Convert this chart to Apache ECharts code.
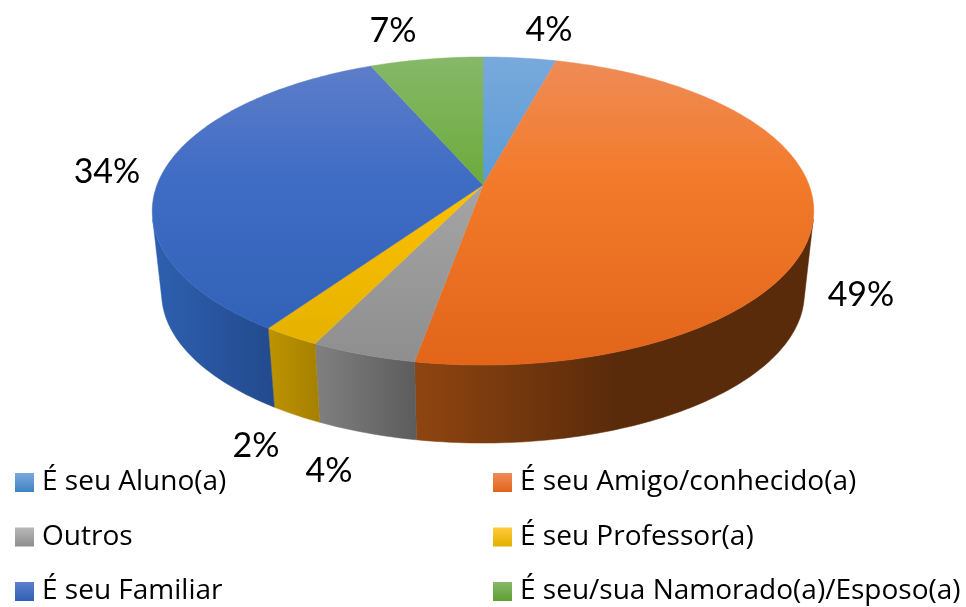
<!DOCTYPE html>
<html>
<head>
<meta charset="utf-8">
<title>Pizza 3D</title>
<style>
  html, body { margin: 0; padding: 0; background: #fff; }
  #chart { width: 966px; height: 607px; }
</style>
<script src="https://cdn.jsdelivr.net/npm/echarts@6/dist/echarts.min.js"></script>
</head>
<body>
<div id="chart"></div>
<script>
// dados (percentual de cada fatia)
const categories = ['É seu Aluno(a)', 'É seu Amigo/conhecido(a)', 'Outros', 'É seu Professor(a)', 'É seu Familiar', 'É seu/sua Namorado(a)/Esposo(a)']
const values = [4.2, 48.6, 4.4, 2.4, 33.9, 6.5]

// cores: [topo claro, meio, base] da face e [esquerda, direita] da lateral
const topColors = [
  ['#79a9dc', '#5b9bd5', '#3f83c2'],
  ['#ee8c58', '#f37a2a', '#e2651a'],
  ['#b8b8b8', '#a5a5a5', '#8e8e8e'],
  ['#ffcb3a', '#ffc000', '#e2b000'],
  ['#5f7fca', '#3f6cc4', '#2f5fb5'],
  ['#86b869', '#6dab3c', '#5f9e32']
]
const wallColors = [
  ['#3f7fb8', '#3f7fb8'],
  ['#8f4510', '#5a2b0b'],
  ['#808080', '#5c5c5c'],
  ['#bd9400', '#a58000'],
  ['#2e60b0', '#234a8d'],
  ['#4f7f2c', '#4f7f2c']
]
// centro dos rótulos de percentual, na ordem das categorias
const labelCenters = [[549, 30], [861, 295], [329, 471], [256, 446], [107, 172], [393, 31]]

// projeção em perspectiva do disco (u, v em [-1, 1], v = 1 é a frente)
const CX = 483
const CY = 185
const PROJ_A = 118.4
const PROJ_C = -0.169
const PROJ_D = 326
const VANISH_Y = 3100
const DEPTH = 0.0285

const rimPoint = (deg) => {
  const rad = deg * Math.PI / 180
  const u = Math.sin(rad)
  const v = -Math.cos(rad)
  const w = 1 + PROJ_C * v
  return [CX + PROJ_D * u / w, (PROJ_A * v + CY) / w]
}

const lowerPoint = (p) => [p[0] + (CX - p[0]) * DEPTH, p[1] + (VANISH_Y - p[1]) * DEPTH]

// ângulos onde a lateral deixa de ser visível (tangente vista do ponto de fuga)
let wallFrom = 90
let wallTo = 270
let maxSlope = -Infinity
let minSlope = Infinity
for (let a = 0; a < 360; a += 0.25) {
  const p = rimPoint(a)
  const s = (p[0] - CX) / (VANISH_Y - p[1])
  if (s > maxSlope) { maxSlope = s; wallFrom = a }
  if (s < minSlope) { minSlope = s; wallTo = a }
}

const arcPoints = (from, to) => {
  const pts = []
  const steps = Math.max(2, Math.ceil(to - from))
  for (let i = 0; i <= steps; i++) pts.push(rimPoint(from + (to - from) * i / steps))
  return pts
}

const total = values.reduce((a, b) => a + b, 0)
const starts = []
values.reduce((acc, v, i) => { starts[i] = acc; return acc + v }, 0)

const linear = (x, y, x2, y2, stops, global) => ({
  type: 'linear', x, y, x2, y2, global,
  colorStops: stops.map(s => ({ offset: s[0], color: s[1] }))
})

const renderSlice = (i) => () => {
  const from = starts[i] / total * 360
  const to = (starts[i] + values[i]) / total * 360
  const children = []

  // lateral
  const a = Math.max(from, wallFrom)
  const b = Math.min(to, wallTo)
  if (b > a) {
    const upper = arcPoints(a, b)
    const lower = upper.map(lowerPoint).reverse()
    const xs = upper.concat(lower).map(p => p[0])
    const x1 = Math.min(...xs)
    const x2 = Math.max(...xs)
    // na fatia laranja o marrom escurece só no início e depois fica constante
    const stops = i === 1
      ? [[0, wallColors[i][0]], [0.5, wallColors[i][1]], [1, wallColors[i][1]]]
      : [[0, wallColors[i][0]], [1, wallColors[i][1]]]
    const fill = linear(x1, 0, x2, 0, stops, true)
    children.push({
      type: 'polygon',
      shape: { points: upper.concat(lower) },
      style: { fill, stroke: fill, lineWidth: 0.5 }
    })
  }

  // face superior
  const c = topColors[i]
  const topFill = linear(0, 57, 0, 365, [[0, c[0]], [0.4, c[1]], [1, c[2]]], true)
  children.push({
    type: 'polygon',
    shape: { points: [[CX, CY]].concat(arcPoints(from, to)) },
    style: { fill: topFill, stroke: topFill, lineWidth: 0.5 }
  })

  children.push({
    type: 'text',
    style: {
      x: labelCenters[i][0],
      y: labelCenters[i][1],
      text: Math.round(values[i]) + '%',
      fill: '#000',
      fontFamily: 'Lato',
      fontSize: 34,
      align: 'center',
      verticalAlign: 'middle'
    }
  })
  return { type: 'group', children }
}

const series = categories.map((name, i) => ({
  type: 'custom',
  name,
  coordinateSystem: 'none',
  data: [[values[i]]],
  silent: true,
  animation: false,
  itemStyle: { color: linear(0, 0, 0, 1, [[0, topColors[i][0]], [1, topColors[i][2]]], false) },
  renderItem: renderSlice(i)
}))

const legendBase = {
  orient: 'vertical',
  top: 468.5,
  height: 200,
  icon: 'rect',
  itemWidth: 19,
  itemHeight: 19,
  itemGap: 26.5,
  selectedMode: false,
  padding: 0,
  textStyle: { color: '#000', fontFamily: 'Open Sans', fontSize: 28, padding: [0, 0, 0, 3] }
}

const chart = echarts.init(document.getElementById('chart'), null, { renderer: 'canvas' })
chart.setOption({
  backgroundColor: '#fff',
  animation: false,
  legend: [
    { ...legendBase, left: 15, data: categories.filter((_, i) => i % 2 === 0) },
    { ...legendBase, left: 493, data: categories.filter((_, i) => i % 2 === 1) }
  ],
  series
})
</script>
</body>
</html>
